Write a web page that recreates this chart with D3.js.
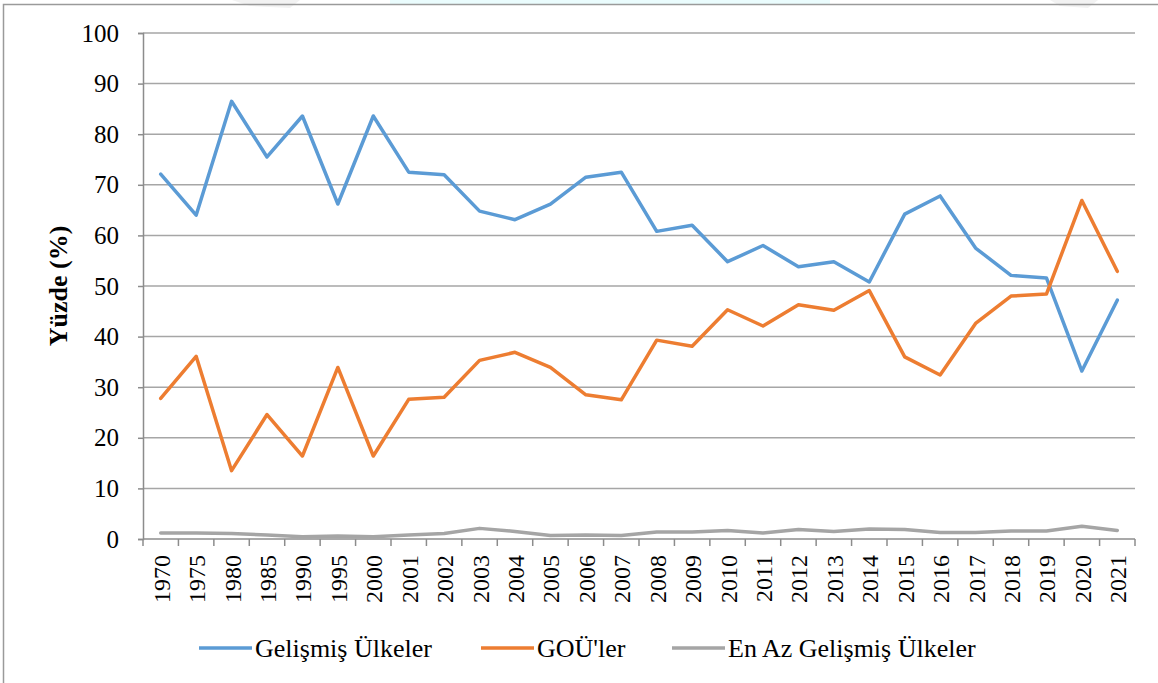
<!DOCTYPE html>
<html>
<head>
<meta charset="utf-8">
<script src="https://cdn.jsdelivr.net/npm/d3@7"></script>
<style>
  body { margin: 0; background: #fff; }
  svg { display: block; }
</style>
</head>
<body>
<svg id="chart" width="1158" height="683"></svg>
<script>
const years = ['1970','1975','1980','1985','1990','1995','2000','2001','2002','2003','2004',
  '2005','2006','2007','2008','2009','2010','2011','2012','2013','2014','2015','2016','2017',
  '2018','2019','2020','2021'];

const gelismis = [72.1, 64.0, 86.5, 75.5, 83.6, 66.2, 83.6, 72.5, 72.0, 64.8, 63.1, 66.2, 71.5,
  72.5, 60.8, 62.0, 54.8, 58.0, 53.8, 54.8, 50.8, 64.2, 67.8, 57.5, 52.1, 51.6, 33.2, 47.2];
const gou = [27.8, 36.1, 13.5, 24.6, 16.4, 33.9, 16.4, 27.6, 28.0, 35.3, 36.9, 33.9, 28.5,
  27.5, 39.3, 38.1, 45.3, 42.1, 46.3, 45.2, 49.1, 36.0, 32.4, 42.6, 48.0, 48.4, 66.9, 52.9];
const enAz = [1.2, 1.2, 1.1, 0.8, 0.45, 0.6, 0.45, 0.8, 1.1, 2.1, 1.5, 0.7, 0.8,
  0.7, 1.4, 1.4, 1.7, 1.2, 1.9, 1.5, 2.0, 1.9, 1.3, 1.3, 1.6, 1.6, 2.5, 1.7];

const yTicks = [0, 10, 20, 30, 40, 50, 60, 70, 80, 90, 100];

const series = [
  { name: 'Gelişmiş Ülkeler', values: gelismis, color: '#5b9bd5' },
  { name: "GOÜ'ler", values: gou, color: '#ed7d31' },
  { name: 'En Az Gelişmiş Ülkeler', values: enAz, color: '#a5a5a5' }
];

const serif = '"Liberation Serif", "Times New Roman", serif';
const svg = d3.select('#chart');
const padLeft = 143, padRight = 1135, padTop = 33, padBottom = 539;

// faint page decoration at the top
svg.append('rect').attr('x', 390).attr('y', 0).attr('width', 440).attr('height', 5)
  .attr('fill', '#eafcfd');
svg.append('path').attr('d', 'M232,0 L300,0 L290,8 L250,6 Z').attr('fill', '#f2f2f2');
svg.append('path').attr('d', 'M1050,0 L1098,0 L1088,8 L1060,6 Z').attr('fill', '#f2f2f2');

// outer border
svg.append('path')
  .attr('d', 'M3.5,683 V4.5 H1158')
  .attr('fill', 'none').attr('stroke', '#9a9a9a').attr('stroke-width', 1.5);

const x = d3.scaleBand().domain(years).range([padLeft, padRight]);
const y = d3.scaleLinear().domain([0, 100]).range([padBottom, padTop]);

// grid lines
svg.append('g').selectAll('line')
  .data(yTicks.filter(d => d > 0))
  .enter().append('line')
  .attr('x1', padLeft).attr('x2', padRight)
  .attr('y1', d => y(d)).attr('y2', d => y(d))
  .attr('stroke', '#a6a6a6').attr('stroke-width', 1.5);

// y axis
const yAxis = svg.append('g')
  .attr('transform', 'translate(' + padLeft + ',0)')
  .call(d3.axisLeft(y).tickValues(yTicks).tickSize(5).tickPadding(19));
yAxis.select('.domain').attr('stroke', '#8c8c8c').attr('stroke-width', 1.5);
yAxis.selectAll('.tick line').attr('stroke', '#8c8c8c').attr('stroke-width', 1.5);
yAxis.selectAll('text')
  .style('font-family', serif).style('font-size', '25px').attr('fill', '#000');

// x axis, ticks between categories
const xg = svg.append('g').attr('transform', 'translate(0,' + padBottom + ')');
xg.append('line').attr('x1', padLeft).attr('x2', padRight)
  .attr('stroke', '#8c8c8c').attr('stroke-width', 1.5);
xg.selectAll('line.tk')
  .data(years.concat(['end']))
  .enter().append('line')
  .attr('class', 'tk')
  .attr('x1', (d, i) => i < years.length ? x(d) : padRight)
  .attr('x2', (d, i) => i < years.length ? x(d) : padRight)
  .attr('y1', 0).attr('y2', 7)
  .attr('stroke', '#8c8c8c').attr('stroke-width', 1.5);
xg.selectAll('text')
  .data(years)
  .enter().append('text')
  .attr('transform', d => 'translate(' + (x(d) + x.bandwidth() / 2 + 9) + ',16) rotate(-90)')
  .attr('text-anchor', 'end')
  .style('font-family', serif).style('font-size', '24px')
  .text(d => d);

// y axis title
svg.append('text')
  .attr('transform', 'translate(67,' + ((padTop + padBottom) / 2) + ') rotate(-90)')
  .attr('text-anchor', 'middle')
  .style('font-family', serif).style('font-size', '26px').style('font-weight', 'bold')
  .text('Yüzde (%)');

// lines
const line = d3.line()
  .x((d, i) => x(years[i]) + x.bandwidth() / 2)
  .y(d => y(d));

svg.append('g').selectAll('path')
  .data(series)
  .enter().append('path')
  .attr('d', d => line(d.values))
  .attr('fill', 'none')
  .attr('stroke', d => d.color)
  .attr('stroke-width', 3.5)
  .attr('stroke-linejoin', 'round')
  .attr('stroke-linecap', 'round');

// legend
const legendX = [199, 481, 672];
const lg = svg.append('g').selectAll('g')
  .data(series)
  .enter().append('g')
  .attr('transform', (d, i) => 'translate(' + legendX[i] + ',648)');
lg.append('line').attr('x1', 0).attr('x2', 53).attr('y1', 0).attr('y2', 0)
  .attr('stroke', d => d.color).attr('stroke-width', 3.5);
lg.append('text').attr('x', 56).attr('y', 9)
  .style('font-family', serif).style('font-size', '26px')
  .text(d => d.name);
</script>
</body>
</html>
